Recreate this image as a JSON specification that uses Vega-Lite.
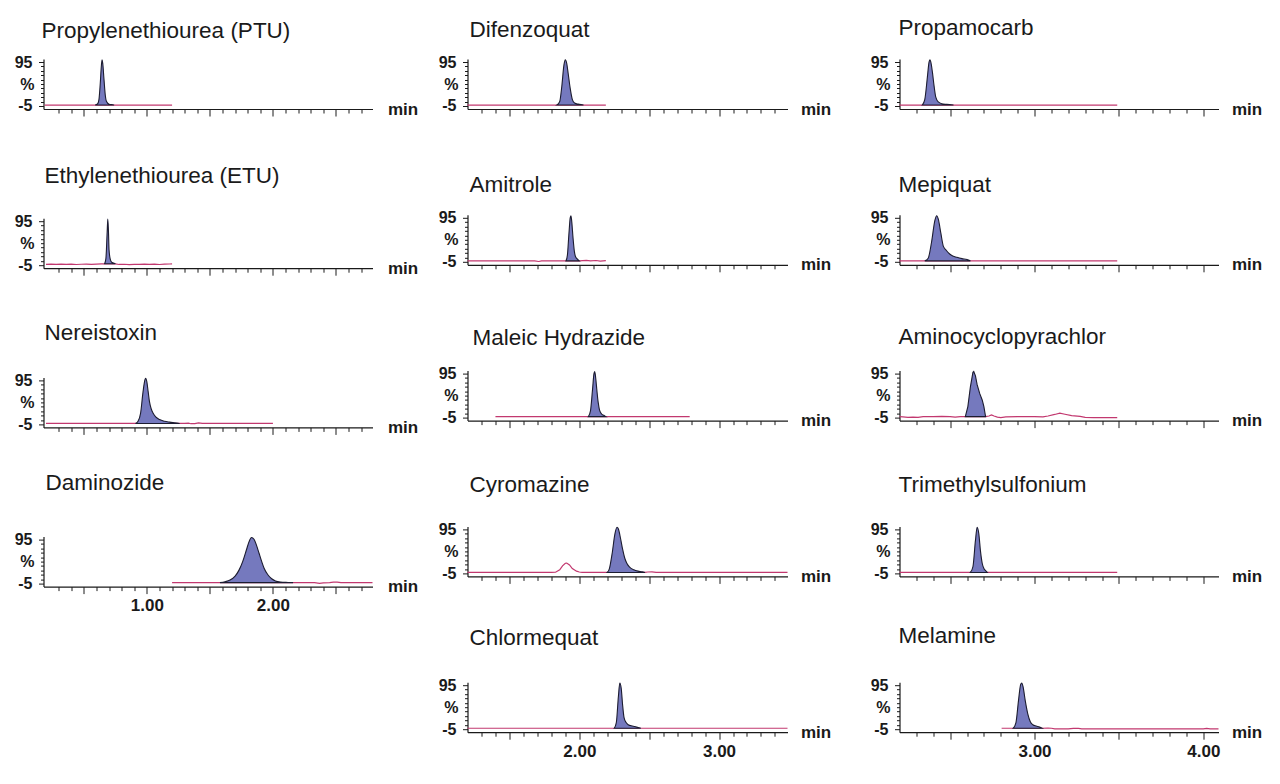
{
 "$schema": "https://vega.github.io/schema/vega-lite/v6.json",
 "padding": {"left": 11.5, "top": 16, "right": 5, "bottom": 5},
 "background": "white",
 "datasets": {
  "trace": [
   {"c":"PTU","t":0.19,"y":-3},{"c":"PTU","t":0.59,"y":-3},{"c":"PTU","t":0.74,"y":-3},{"c":"PTU","t":1.2,"y":-3},
   {"c":"ETU","t":0.2,"y":-3.2},{"c":"ETU","t":0.24,"y":-2.8},{"c":"ETU","t":0.28,"y":-3.5},{"c":"ETU","t":0.32,"y":-2.6},{"c":"ETU","t":0.36,"y":-3.3},{"c":"ETU","t":0.4,"y":-2.9},{"c":"ETU","t":0.44,"y":-3.6},{"c":"ETU","t":0.48,"y":-3.0},{"c":"ETU","t":0.52,"y":-2.5},{"c":"ETU","t":0.56,"y":-3.4},{"c":"ETU","t":0.6,"y":-2.8},{"c":"ETU","t":0.64,"y":-2.2},{"c":"ETU","t":0.665,"y":-2},{"c":"ETU","t":0.75,"y":-2},{"c":"ETU","t":0.78,"y":-3.5},{"c":"ETU","t":0.82,"y":-3.0},{"c":"ETU","t":0.86,"y":-3.8},{"c":"ETU","t":0.9,"y":-3.1},{"c":"ETU","t":0.94,"y":-3.5},{"c":"ETU","t":0.98,"y":-2.7},{"c":"ETU","t":1.02,"y":-3.3},{"c":"ETU","t":1.06,"y":-2.9},{"c":"ETU","t":1.1,"y":-3.6},{"c":"ETU","t":1.14,"y":-2.6},{"c":"ETU","t":1.18,"y":-2.4},{"c":"ETU","t":1.2,"y":-2.2},
   {"c":"NTX","t":0.2,"y":-3},{"c":"NTX","t":0.91,"y":-3},{"c":"NTX","t":1.26,"y":-3},{"c":"NTX","t":1.3,"y":-3},{"c":"NTX","t":1.33,"y":-2.2},{"c":"NTX","t":1.35,"y":-3.6},{"c":"NTX","t":1.38,"y":-3.4},{"c":"NTX","t":1.41,"y":-1.6},{"c":"NTX","t":1.44,"y":-3},{"c":"NTX","t":1.5,"y":-3},{"c":"NTX","t":2.0,"y":-3},
   {"c":"DAM","t":1.2,"y":-3},{"c":"DAM","t":1.58,"y":-3},{"c":"DAM","t":2.16,"y":-3},{"c":"DAM","t":2.33,"y":-3},{"c":"DAM","t":2.37,"y":-4.5},{"c":"DAM","t":2.4,"y":-3.6},{"c":"DAM","t":2.45,"y":-3},{"c":"DAM","t":2.48,"y":-2},{"c":"DAM","t":2.51,"y":-1.8},{"c":"DAM","t":2.54,"y":-3},{"c":"DAM","t":2.79,"y":-3},
   {"c":"DIF","t":1.2,"y":-3},{"c":"DIF","t":1.84,"y":-3},{"c":"DIF","t":2.03,"y":-3},{"c":"DIF","t":2.19,"y":-3},
   {"c":"AMI","t":1.2,"y":-3},{"c":"AMI","t":1.5,"y":-3},{"c":"AMI","t":1.68,"y":-3},{"c":"AMI","t":1.71,"y":-4.5},{"c":"AMI","t":1.73,"y":-3},{"c":"AMI","t":1.905,"y":-3},{"c":"AMI","t":2.0,"y":-3},{"c":"AMI","t":2.05,"y":-1.8},{"c":"AMI","t":2.08,"y":-3},{"c":"AMI","t":2.12,"y":-2.2},{"c":"AMI","t":2.15,"y":-3.5},{"c":"AMI","t":2.19,"y":-2.6},
   {"c":"MAL","t":1.4,"y":-3},{"c":"MAL","t":2.065,"y":-3},{"c":"MAL","t":2.19,"y":-3},{"c":"MAL","t":2.79,"y":-3},
   {"c":"CYR","t":1.2,"y":-3},{"c":"CYR","t":1.8,"y":-3},{"c":"CYR","t":1.83,"y":-2.5},{"c":"CYR","t":1.86,"y":3},{"c":"CYR","t":1.88,"y":12},{"c":"CYR","t":1.9,"y":18},{"c":"CYR","t":1.91,"y":18.5},{"c":"CYR","t":1.93,"y":14},{"c":"CYR","t":1.95,"y":6},{"c":"CYR","t":1.98,"y":0},{"c":"CYR","t":2.0,"y":-2},{"c":"CYR","t":2.02,"y":-3},{"c":"CYR","t":2.2,"y":-3},{"c":"CYR","t":2.47,"y":-3},{"c":"CYR","t":2.49,"y":-2},{"c":"CYR","t":2.52,"y":-1.5},{"c":"CYR","t":2.55,"y":-3},{"c":"CYR","t":3.49,"y":-3},
   {"c":"CHL","t":1.2,"y":-3},{"c":"CHL","t":2.25,"y":-3},{"c":"CHL","t":2.44,"y":-3},{"c":"CHL","t":3.49,"y":-3},
   {"c":"PRO","t":2.2,"y":-3},{"c":"PRO","t":2.335,"y":-3},{"c":"PRO","t":2.52,"y":-3},{"c":"PRO","t":3.49,"y":-3},
   {"c":"MEP","t":2.2,"y":-3},{"c":"MEP","t":2.35,"y":-3},{"c":"MEP","t":2.62,"y":-3},{"c":"MEP","t":3.49,"y":-3},
   {"c":"AMC","t":2.2,"y":-3},{"c":"AMC","t":2.22,"y":-3.5},{"c":"AMC","t":2.25,"y":-4.5},{"c":"AMC","t":2.28,"y":-4},{"c":"AMC","t":2.31,"y":-4.5},{"c":"AMC","t":2.34,"y":-3},{"c":"AMC","t":2.4,"y":-3},{"c":"AMC","t":2.45,"y":-2.5},{"c":"AMC","t":2.5,"y":-3},{"c":"AMC","t":2.53,"y":-4},{"c":"AMC","t":2.56,"y":-3},{"c":"AMC","t":2.59,"y":-3},{"c":"AMC","t":2.71,"y":-3},{"c":"AMC","t":2.73,"y":-1.5},{"c":"AMC","t":2.745,"y":1},{"c":"AMC","t":2.76,"y":-1.5},{"c":"AMC","t":2.78,"y":-4},{"c":"AMC","t":2.8,"y":-5},{"c":"AMC","t":2.83,"y":-3.5},{"c":"AMC","t":2.9,"y":-3},{"c":"AMC","t":3.0,"y":-3},{"c":"AMC","t":3.05,"y":-3.5},{"c":"AMC","t":3.08,"y":-1.5},{"c":"AMC","t":3.12,"y":2},{"c":"AMC","t":3.15,"y":5},{"c":"AMC","t":3.18,"y":2.5},{"c":"AMC","t":3.22,"y":-0.5},{"c":"AMC","t":3.27,"y":-2.5},{"c":"AMC","t":3.3,"y":-4.5},{"c":"AMC","t":3.35,"y":-5},{"c":"AMC","t":3.49,"y":-5},
   {"c":"TMS","t":2.2,"y":-3},{"c":"TMS","t":2.62,"y":-3},{"c":"TMS","t":2.72,"y":-3},{"c":"TMS","t":3.49,"y":-3},
   {"c":"MEL","t":2.805,"y":-3},{"c":"MEL","t":2.874,"y":-3},{"c":"MEL","t":3.045,"y":-3},{"c":"MEL","t":3.08,"y":-2.5},{"c":"MEL","t":3.1,"y":-3},{"c":"MEL","t":3.12,"y":-4.5},{"c":"MEL","t":3.2,"y":-4.5},{"c":"MEL","t":3.23,"y":-3.5},{"c":"MEL","t":3.26,"y":-3.5},{"c":"MEL","t":3.28,"y":-4.5},{"c":"MEL","t":4.0,"y":-4.5},{"c":"MEL","t":4.02,"y":-3.5},{"c":"MEL","t":4.04,"y":-4.5},{"c":"MEL","t":4.09,"y":-4.5}
  ],
  "peak": [
   {"c":"PTU","t":0.59,"y":-3},{"c":"PTU","t":0.61,"y":0},{"c":"PTU","t":0.62,"y":10},{"c":"PTU","t":0.63,"y":45},{"c":"PTU","t":0.64,"y":90},{"c":"PTU","t":0.645,"y":100},{"c":"PTU","t":0.65,"y":92},{"c":"PTU","t":0.66,"y":55},{"c":"PTU","t":0.67,"y":20},{"c":"PTU","t":0.68,"y":5},{"c":"PTU","t":0.7,"y":-1},{"c":"PTU","t":0.73,"y":-2.5},{"c":"PTU","t":0.74,"y":-3},
   {"c":"ETU","t":0.665,"y":-2},{"c":"ETU","t":0.675,"y":10},{"c":"ETU","t":0.685,"y":70},{"c":"ETU","t":0.69,"y":100},{"c":"ETU","t":0.695,"y":75},{"c":"ETU","t":0.7,"y":30},{"c":"ETU","t":0.71,"y":8},{"c":"ETU","t":0.72,"y":2},{"c":"ETU","t":0.735,"y":0},{"c":"ETU","t":0.75,"y":-2},
   {"c":"NTX","t":0.91,"y":-3},{"c":"NTX","t":0.93,"y":2},{"c":"NTX","t":0.95,"y":20},{"c":"NTX","t":0.97,"y":70},{"c":"NTX","t":0.985,"y":97},{"c":"NTX","t":0.99,"y":100},{"c":"NTX","t":1.0,"y":92},{"c":"NTX","t":1.01,"y":70},{"c":"NTX","t":1.02,"y":48},{"c":"NTX","t":1.035,"y":30},{"c":"NTX","t":1.05,"y":20},{"c":"NTX","t":1.07,"y":12},{"c":"NTX","t":1.1,"y":6},{"c":"NTX","t":1.14,"y":2},{"c":"NTX","t":1.18,"y":0},{"c":"NTX","t":1.22,"y":-1.5},{"c":"NTX","t":1.26,"y":-3},
   {"c":"DAM","t":1.58,"y":-3},{"c":"DAM","t":1.62,"y":-1},{"c":"DAM","t":1.66,"y":3},{"c":"DAM","t":1.7,"y":12},{"c":"DAM","t":1.73,"y":25},{"c":"DAM","t":1.76,"y":45},{"c":"DAM","t":1.79,"y":72},{"c":"DAM","t":1.81,"y":90},{"c":"DAM","t":1.83,"y":100},{"c":"DAM","t":1.85,"y":96},{"c":"DAM","t":1.87,"y":82},{"c":"DAM","t":1.89,"y":64},{"c":"DAM","t":1.91,"y":46},{"c":"DAM","t":1.93,"y":30},{"c":"DAM","t":1.96,"y":15},{"c":"DAM","t":1.99,"y":6},{"c":"DAM","t":2.02,"y":1},{"c":"DAM","t":2.06,"y":-1.5},{"c":"DAM","t":2.12,"y":-2.5},{"c":"DAM","t":2.16,"y":-3},
   {"c":"DIF","t":1.84,"y":-3},{"c":"DIF","t":1.86,"y":5},{"c":"DIF","t":1.875,"y":40},{"c":"DIF","t":1.89,"y":88},{"c":"DIF","t":1.9,"y":100},{"c":"DIF","t":1.91,"y":92},{"c":"DIF","t":1.92,"y":70},{"c":"DIF","t":1.935,"y":35},{"c":"DIF","t":1.95,"y":10},{"c":"DIF","t":1.965,"y":2},{"c":"DIF","t":1.98,"y":0},{"c":"DIF","t":2.0,"y":-1},{"c":"DIF","t":2.03,"y":-3},
   {"c":"AMI","t":1.905,"y":-3},{"c":"AMI","t":1.915,"y":10},{"c":"AMI","t":1.925,"y":55},{"c":"AMI","t":1.935,"y":95},{"c":"AMI","t":1.94,"y":100},{"c":"AMI","t":1.945,"y":90},{"c":"AMI","t":1.955,"y":50},{"c":"AMI","t":1.965,"y":18},{"c":"AMI","t":1.975,"y":5},{"c":"AMI","t":1.99,"y":0},{"c":"AMI","t":2.0,"y":-3},
   {"c":"MAL","t":2.065,"y":-3},{"c":"MAL","t":2.08,"y":10},{"c":"MAL","t":2.095,"y":60},{"c":"MAL","t":2.105,"y":95},{"c":"MAL","t":2.11,"y":100},{"c":"MAL","t":2.115,"y":92},{"c":"MAL","t":2.125,"y":60},{"c":"MAL","t":2.135,"y":30},{"c":"MAL","t":2.145,"y":12},{"c":"MAL","t":2.16,"y":3},{"c":"MAL","t":2.175,"y":0},{"c":"MAL","t":2.19,"y":-3},
   {"c":"CYR","t":2.2,"y":-3},{"c":"CYR","t":2.215,"y":5},{"c":"CYR","t":2.235,"y":40},{"c":"CYR","t":2.255,"y":85},{"c":"CYR","t":2.27,"y":100},{"c":"CYR","t":2.28,"y":96},{"c":"CYR","t":2.295,"y":75},{"c":"CYR","t":2.31,"y":50},{"c":"CYR","t":2.325,"y":30},{"c":"CYR","t":2.34,"y":18},{"c":"CYR","t":2.36,"y":9},{"c":"CYR","t":2.39,"y":3},{"c":"CYR","t":2.42,"y":0},{"c":"CYR","t":2.45,"y":-1.5},{"c":"CYR","t":2.47,"y":-3},
   {"c":"CHL","t":2.25,"y":-3},{"c":"CHL","t":2.265,"y":10},{"c":"CHL","t":2.28,"y":70},{"c":"CHL","t":2.29,"y":100},{"c":"CHL","t":2.3,"y":88},{"c":"CHL","t":2.31,"y":50},{"c":"CHL","t":2.32,"y":22},{"c":"CHL","t":2.335,"y":10},{"c":"CHL","t":2.35,"y":5},{"c":"CHL","t":2.38,"y":2},{"c":"CHL","t":2.41,"y":0},{"c":"CHL","t":2.44,"y":-3},
   {"c":"PRO","t":2.335,"y":-3},{"c":"PRO","t":2.35,"y":10},{"c":"PRO","t":2.365,"y":60},{"c":"PRO","t":2.375,"y":95},{"c":"PRO","t":2.38,"y":100},{"c":"PRO","t":2.385,"y":96},{"c":"PRO","t":2.395,"y":72},{"c":"PRO","t":2.405,"y":40},{"c":"PRO","t":2.415,"y":15},{"c":"PRO","t":2.43,"y":4},{"c":"PRO","t":2.45,"y":0},{"c":"PRO","t":2.48,"y":-1.5},{"c":"PRO","t":2.52,"y":-3},
   {"c":"MEP","t":2.35,"y":-3},{"c":"MEP","t":2.37,"y":3},{"c":"MEP","t":2.39,"y":40},{"c":"MEP","t":2.41,"y":90},{"c":"MEP","t":2.42,"y":100},{"c":"MEP","t":2.43,"y":92},{"c":"MEP","t":2.445,"y":60},{"c":"MEP","t":2.46,"y":30},{"c":"MEP","t":2.475,"y":22},{"c":"MEP","t":2.49,"y":15},{"c":"MEP","t":2.51,"y":9},{"c":"MEP","t":2.54,"y":5},{"c":"MEP","t":2.57,"y":2},{"c":"MEP","t":2.6,"y":0},{"c":"MEP","t":2.62,"y":-3},
   {"c":"AMC","t":2.59,"y":-3},{"c":"AMC","t":2.605,"y":20},{"c":"AMC","t":2.62,"y":65},{"c":"AMC","t":2.635,"y":98},{"c":"AMC","t":2.64,"y":100},{"c":"AMC","t":2.65,"y":90},{"c":"AMC","t":2.66,"y":70},{"c":"AMC","t":2.675,"y":50},{"c":"AMC","t":2.69,"y":35},{"c":"AMC","t":2.7,"y":20},{"c":"AMC","t":2.71,"y":-3},
   {"c":"TMS","t":2.62,"y":-3},{"c":"TMS","t":2.635,"y":10},{"c":"TMS","t":2.65,"y":70},{"c":"TMS","t":2.66,"y":100},{"c":"TMS","t":2.67,"y":85},{"c":"TMS","t":2.68,"y":45},{"c":"TMS","t":2.69,"y":18},{"c":"TMS","t":2.7,"y":6},{"c":"TMS","t":2.71,"y":1},{"c":"TMS","t":2.72,"y":-3},
   {"c":"MEL","t":2.874,"y":-3},{"c":"MEL","t":2.89,"y":10},{"c":"MEL","t":2.905,"y":60},{"c":"MEL","t":2.918,"y":97},{"c":"MEL","t":2.924,"y":100},{"c":"MEL","t":2.932,"y":92},{"c":"MEL","t":2.945,"y":60},{"c":"MEL","t":2.96,"y":30},{"c":"MEL","t":2.975,"y":12},{"c":"MEL","t":2.99,"y":5},{"c":"MEL","t":3.01,"y":2},{"c":"MEL","t":3.03,"y":0},{"c":"MEL","t":3.045,"y":-3}
  ]
 },
 "spacing": 17,
 "hconcat": [
  {"bounds": "flush", "spacing": 109.2, "vconcat": [
   {"width": 329, "height": 50, "title": {"text": "Propylenethiourea (PTU)", "offset": 12, "dx": -2},
    "encoding": {
     "x": {"field":"t","type":"quantitative","scale":{"domain":[0.18,2.79],"nice":false,"zero":false},"axis":{"values":[0.3,0.4,0.5,0.6,0.7,0.8,0.9,1,1.1,1.2,1.3,1.4,1.5,1.6,1.7,1.8,1.9,2,2.1,2.2,2.3,2.4,2.5,2.6,2.7],"labels":false,"tickSize":{"condition":{"test":"abs(datum.value*2-round(datum.value*2))<0.01","value":7},"value":4},"title":"min","titleX":344,"titleY":5,"titleAlign":"left","titleBaseline":"alphabetic"}},
     "y": {"field":"y","type":"quantitative","scale":{"domain":[-12,102],"nice":false,"zero":false},"axis":{"title":null,"values":[-5,5,15,25,35,45,55,65,75,85,95],"labelExpr":"datum.value == 95 ? '95' : datum.value == 45 ? '%' : datum.value == -5 ? '-5' : ''","tickSize":{"condition":{"test":"datum.value == 95 || datum.value == -5","value":5},"value":3},"labelPadding":6.5,"labelOverlap":false,"minExtent":32,"maxExtent":32}}
    },
    "layer": [
     {"data":{"name":"trace"},"transform":[{"filter":"datum.c === 'PTU'"}],"mark":{"type":"line","stroke":"#c2386f","strokeWidth":1.2}},
     {"data":{"name":"peak"},"transform":[{"filter":"datum.c === 'PTU'"}],"mark":{"type":"area","fill":"#7579be","stroke":"#1c1c30","strokeWidth":1.1,"interpolate":"monotone"},"encoding":{"y2":{"datum":-3}}}
    ]},
   {"width": 329, "height": 50, "title": {"text": "Ethylenethiourea (ETU)", "offset": 25.4, "dx": 1},
    "encoding": {
     "x": {"field":"t","type":"quantitative","scale":{"domain":[0.18,2.79],"nice":false,"zero":false},"axis":{"values":[0.3,0.4,0.5,0.6,0.7,0.8,0.9,1,1.1,1.2,1.3,1.4,1.5,1.6,1.7,1.8,1.9,2,2.1,2.2,2.3,2.4,2.5,2.6,2.7],"labels":false,"tickSize":{"condition":{"test":"abs(datum.value*2-round(datum.value*2))<0.01","value":7},"value":4},"title":"min","titleX":344,"titleY":5,"titleAlign":"left","titleBaseline":"alphabetic"}},
     "y": {"field":"y","type":"quantitative","scale":{"domain":[-12,102],"nice":false,"zero":false},"axis":{"title":null,"values":[-5,5,15,25,35,45,55,65,75,85,95],"labelExpr":"datum.value == 95 ? '95' : datum.value == 45 ? '%' : datum.value == -5 ? '-5' : ''","tickSize":{"condition":{"test":"datum.value == 95 || datum.value == -5","value":5},"value":3},"labelPadding":6.5,"labelOverlap":false,"minExtent":32,"maxExtent":32}}
    },
    "layer": [
     {"data":{"name":"trace"},"transform":[{"filter":"datum.c === 'ETU'"}],"mark":{"type":"line","stroke":"#c2386f","strokeWidth":1.2}},
     {"data":{"name":"peak"},"transform":[{"filter":"datum.c === 'ETU'"}],"mark":{"type":"area","fill":"#7579be","stroke":"#1c1c30","strokeWidth":1.1,"interpolate":"monotone"},"encoding":{"y2":{"datum":-2}}}
    ]},
   {"width": 329, "height": 50, "title": {"text": "Nereistoxin", "offset": 28.4, "dx": 1},
    "encoding": {
     "x": {"field":"t","type":"quantitative","scale":{"domain":[0.18,2.79],"nice":false,"zero":false},"axis":{"values":[0.3,0.4,0.5,0.6,0.7,0.8,0.9,1,1.1,1.2,1.3,1.4,1.5,1.6,1.7,1.8,1.9,2,2.1,2.2,2.3,2.4,2.5,2.6,2.7],"labels":false,"tickSize":{"condition":{"test":"abs(datum.value*2-round(datum.value*2))<0.01","value":7},"value":4},"title":"min","titleX":344,"titleY":5,"titleAlign":"left","titleBaseline":"alphabetic"}},
     "y": {"field":"y","type":"quantitative","scale":{"domain":[-12,102],"nice":false,"zero":false},"axis":{"title":null,"values":[-5,5,15,25,35,45,55,65,75,85,95],"labelExpr":"datum.value == 95 ? '95' : datum.value == 45 ? '%' : datum.value == -5 ? '-5' : ''","tickSize":{"condition":{"test":"datum.value == 95 || datum.value == -5","value":5},"value":3},"labelPadding":6.5,"labelOverlap":false,"minExtent":32,"maxExtent":32}}
    },
    "layer": [
     {"data":{"name":"trace"},"transform":[{"filter":"datum.c === 'NTX'"}],"mark":{"type":"line","stroke":"#c2386f","strokeWidth":1.2}},
     {"data":{"name":"peak"},"transform":[{"filter":"datum.c === 'NTX'"}],"mark":{"type":"area","fill":"#7579be","stroke":"#1c1c30","strokeWidth":1.1,"interpolate":"monotone"},"encoding":{"y2":{"datum":-3}}}
    ]},
   {"width": 329, "height": 50, "title": {"text": "Daminozide", "offset": 36.7, "dx": 2},
    "encoding": {
     "x": {"field":"t","type":"quantitative","scale":{"domain":[0.18,2.79],"nice":false,"zero":false},"axis":{"values":[0.3,0.4,0.5,0.6,0.7,0.8,0.9,1,1.1,1.2,1.3,1.4,1.5,1.6,1.7,1.8,1.9,2,2.1,2.2,2.3,2.4,2.5,2.6,2.7],"labels":true,"labelExpr":"abs(datum.value - round(datum.value)) < 0.01 ? format(datum.value, '.2f') : ''","labelOverlap":false,"labelFlush":false,"labelPadding":4,"labelFontSize":17,"tickSize":{"condition":{"test":"abs(datum.value*2-round(datum.value*2))<0.01","value":7},"value":4},"title":"min","titleX":344,"titleY":5,"titleAlign":"left","titleBaseline":"alphabetic"}},
     "y": {"field":"y","type":"quantitative","scale":{"domain":[-12,102],"nice":false,"zero":false},"axis":{"title":null,"values":[-5,5,15,25,35,45,55,65,75,85,95],"labelExpr":"datum.value == 95 ? '95' : datum.value == 45 ? '%' : datum.value == -5 ? '-5' : ''","tickSize":{"condition":{"test":"datum.value == 95 || datum.value == -5","value":5},"value":3},"labelPadding":6.5,"labelOverlap":false,"minExtent":32,"maxExtent":32}}
    },
    "layer": [
     {"data":{"name":"trace"},"transform":[{"filter":"datum.c === 'DAM'"}],"mark":{"type":"line","stroke":"#c2386f","strokeWidth":1.2}},
     {"data":{"name":"peak"},"transform":[{"filter":"datum.c === 'DAM'"}],"mark":{"type":"area","fill":"#7579be","stroke":"#1c1c30","strokeWidth":1.1,"interpolate":"monotone"},"encoding":{"y2":{"datum":-3}}}
    ]}
  ]},
  {"bounds": "flush", "spacing": 105.8, "vconcat": [
   {"width": 320, "height": 50, "title": {"text": "Difenzoquat", "offset": 13, "dx": 2},
    "encoding": {
     "x": {"field":"t","type":"quantitative","scale":{"domain":[1.2,3.49],"nice":false,"zero":false},"axis":{"values":[1.3,1.4,1.5,1.6,1.7,1.8,1.9,2,2.1,2.2,2.3,2.4,2.5,2.6,2.7,2.8,2.9,3,3.1,3.2,3.3,3.4],"labels":false,"tickSize":{"condition":{"test":"abs(datum.value*2-round(datum.value*2))<0.01","value":7},"value":4},"title":"min","titleX":333,"titleY":5,"titleAlign":"left","titleBaseline":"alphabetic"}},
     "y": {"field":"y","type":"quantitative","scale":{"domain":[-12,102],"nice":false,"zero":false},"axis":{"title":null,"values":[-5,5,15,25,35,45,55,65,75,85,95],"labelExpr":"datum.value == 95 ? '95' : datum.value == 45 ? '%' : datum.value == -5 ? '-5' : ''","tickSize":{"condition":{"test":"datum.value == 95 || datum.value == -5","value":5},"value":3},"labelPadding":6.5,"labelOverlap":false,"minExtent":32,"maxExtent":32}}
    },
    "layer": [
     {"data":{"name":"trace"},"transform":[{"filter":"datum.c === 'DIF'"}],"mark":{"type":"line","stroke":"#c2386f","strokeWidth":1.2}},
     {"data":{"name":"peak"},"transform":[{"filter":"datum.c === 'DIF'"}],"mark":{"type":"area","fill":"#7579be","stroke":"#1c1c30","strokeWidth":1.1,"interpolate":"monotone"},"encoding":{"y2":{"datum":-3}}}
    ]},
   {"width": 320, "height": 50, "title": {"text": "Amitrole", "offset": 13.7, "dx": 2},
    "encoding": {
     "x": {"field":"t","type":"quantitative","scale":{"domain":[1.2,3.49],"nice":false,"zero":false},"axis":{"values":[1.3,1.4,1.5,1.6,1.7,1.8,1.9,2,2.1,2.2,2.3,2.4,2.5,2.6,2.7,2.8,2.9,3,3.1,3.2,3.3,3.4],"labels":false,"tickSize":{"condition":{"test":"abs(datum.value*2-round(datum.value*2))<0.01","value":7},"value":4},"title":"min","titleX":333,"titleY":5,"titleAlign":"left","titleBaseline":"alphabetic"}},
     "y": {"field":"y","type":"quantitative","scale":{"domain":[-12,102],"nice":false,"zero":false},"axis":{"title":null,"values":[-5,5,15,25,35,45,55,65,75,85,95],"labelExpr":"datum.value == 95 ? '95' : datum.value == 45 ? '%' : datum.value == -5 ? '-5' : ''","tickSize":{"condition":{"test":"datum.value == 95 || datum.value == -5","value":5},"value":3},"labelPadding":6.5,"labelOverlap":false,"minExtent":32,"maxExtent":32}}
    },
    "layer": [
     {"data":{"name":"trace"},"transform":[{"filter":"datum.c === 'AMI'"}],"mark":{"type":"line","stroke":"#c2386f","strokeWidth":1.2}},
     {"data":{"name":"peak"},"transform":[{"filter":"datum.c === 'AMI'"}],"mark":{"type":"area","fill":"#7579be","stroke":"#1c1c30","strokeWidth":1.1,"interpolate":"monotone"},"encoding":{"y2":{"datum":-3}}}
    ]},
   {"width": 320, "height": 50, "title": {"text": "Maleic Hydrazide", "offset": 16, "dx": 5},
    "encoding": {
     "x": {"field":"t","type":"quantitative","scale":{"domain":[1.2,3.49],"nice":false,"zero":false},"axis":{"values":[1.3,1.4,1.5,1.6,1.7,1.8,1.9,2,2.1,2.2,2.3,2.4,2.5,2.6,2.7,2.8,2.9,3,3.1,3.2,3.3,3.4],"labels":false,"tickSize":{"condition":{"test":"abs(datum.value*2-round(datum.value*2))<0.01","value":7},"value":4},"title":"min","titleX":333,"titleY":5,"titleAlign":"left","titleBaseline":"alphabetic"}},
     "y": {"field":"y","type":"quantitative","scale":{"domain":[-12,102],"nice":false,"zero":false},"axis":{"title":null,"values":[-5,5,15,25,35,45,55,65,75,85,95],"labelExpr":"datum.value == 95 ? '95' : datum.value == 45 ? '%' : datum.value == -5 ? '-5' : ''","tickSize":{"condition":{"test":"datum.value == 95 || datum.value == -5","value":5},"value":3},"labelPadding":6.5,"labelOverlap":false,"minExtent":32,"maxExtent":32}}
    },
    "layer": [
     {"data":{"name":"trace"},"transform":[{"filter":"datum.c === 'MAL'"}],"mark":{"type":"line","stroke":"#c2386f","strokeWidth":1.2}},
     {"data":{"name":"peak"},"transform":[{"filter":"datum.c === 'MAL'"}],"mark":{"type":"area","fill":"#7579be","stroke":"#1c1c30","strokeWidth":1.1,"interpolate":"monotone"},"encoding":{"y2":{"datum":-3}}}
    ]},
   {"width": 320, "height": 50, "title": {"text": "Cyromazine", "offset": 25, "dx": 2},
    "encoding": {
     "x": {"field":"t","type":"quantitative","scale":{"domain":[1.2,3.49],"nice":false,"zero":false},"axis":{"values":[1.3,1.4,1.5,1.6,1.7,1.8,1.9,2,2.1,2.2,2.3,2.4,2.5,2.6,2.7,2.8,2.9,3,3.1,3.2,3.3,3.4],"labels":false,"tickSize":{"condition":{"test":"abs(datum.value*2-round(datum.value*2))<0.01","value":7},"value":4},"title":"min","titleX":333,"titleY":5,"titleAlign":"left","titleBaseline":"alphabetic"}},
     "y": {"field":"y","type":"quantitative","scale":{"domain":[-12,102],"nice":false,"zero":false},"axis":{"title":null,"values":[-5,5,15,25,35,45,55,65,75,85,95],"labelExpr":"datum.value == 95 ? '95' : datum.value == 45 ? '%' : datum.value == -5 ? '-5' : ''","tickSize":{"condition":{"test":"datum.value == 95 || datum.value == -5","value":5},"value":3},"labelPadding":6.5,"labelOverlap":false,"minExtent":32,"maxExtent":32}}
    },
    "layer": [
     {"data":{"name":"trace"},"transform":[{"filter":"datum.c === 'CYR'"}],"mark":{"type":"line","stroke":"#c2386f","strokeWidth":1.2}},
     {"data":{"name":"peak"},"transform":[{"filter":"datum.c === 'CYR'"}],"mark":{"type":"area","fill":"#7579be","stroke":"#1c1c30","strokeWidth":1.1,"interpolate":"monotone"},"encoding":{"y2":{"datum":-3}}}
    ]},
   {"width": 320, "height": 50, "title": {"text": "Chlormequat", "offset": 27.4, "dx": 2},
    "encoding": {
     "x": {"field":"t","type":"quantitative","scale":{"domain":[1.2,3.49],"nice":false,"zero":false},"axis":{"values":[1.3,1.4,1.5,1.6,1.7,1.8,1.9,2,2.1,2.2,2.3,2.4,2.5,2.6,2.7,2.8,2.9,3,3.1,3.2,3.3,3.4],"labels":true,"labelExpr":"abs(datum.value - round(datum.value)) < 0.01 ? format(datum.value, '.2f') : ''","labelOverlap":false,"labelFlush":false,"labelPadding":4,"labelFontSize":17,"tickSize":{"condition":{"test":"abs(datum.value*2-round(datum.value*2))<0.01","value":7},"value":4},"title":"min","titleX":333,"titleY":5,"titleAlign":"left","titleBaseline":"alphabetic"}},
     "y": {"field":"y","type":"quantitative","scale":{"domain":[-12,102],"nice":false,"zero":false},"axis":{"title":null,"values":[-5,5,15,25,35,45,55,65,75,85,95],"labelExpr":"datum.value == 95 ? '95' : datum.value == 45 ? '%' : datum.value == -5 ? '-5' : ''","tickSize":{"condition":{"test":"datum.value == 95 || datum.value == -5","value":5},"value":3},"labelPadding":6.5,"labelOverlap":false,"minExtent":32,"maxExtent":32}}
    },
    "layer": [
     {"data":{"name":"trace"},"transform":[{"filter":"datum.c === 'CHL'"}],"mark":{"type":"line","stroke":"#c2386f","strokeWidth":1.2}},
     {"data":{"name":"peak"},"transform":[{"filter":"datum.c === 'CHL'"}],"mark":{"type":"area","fill":"#7579be","stroke":"#1c1c30","strokeWidth":1.1,"interpolate":"monotone"},"encoding":{"y2":{"datum":-3}}}
    ]}
  ]},
  {"bounds": "flush", "spacing": 105.8, "vconcat": [
   {"width": 319, "height": 50, "title": {"text": "Propamocarb", "offset": 15, "dx": -1},
    "encoding": {
     "x": {"field":"t","type":"quantitative","scale":{"domain":[2.2,4.09],"nice":false,"zero":false},"axis":{"values":[2.3,2.4,2.5,2.6,2.7,2.8,2.9,3,3.1,3.2,3.3,3.4,3.5,3.6,3.7,3.8,3.9,4],"labels":false,"tickSize":{"condition":{"test":"abs(datum.value*2-round(datum.value*2))<0.01","value":7},"value":4},"title":"min","titleX":332,"titleY":5,"titleAlign":"left","titleBaseline":"alphabetic"}},
     "y": {"field":"y","type":"quantitative","scale":{"domain":[-12,102],"nice":false,"zero":false},"axis":{"title":null,"values":[-5,5,15,25,35,45,55,65,75,85,95],"labelExpr":"datum.value == 95 ? '95' : datum.value == 45 ? '%' : datum.value == -5 ? '-5' : ''","tickSize":{"condition":{"test":"datum.value == 95 || datum.value == -5","value":5},"value":3},"labelPadding":6.5,"labelOverlap":false,"minExtent":50.6,"maxExtent":50.6}}
    },
    "layer": [
     {"data":{"name":"trace"},"transform":[{"filter":"datum.c === 'PRO'"}],"mark":{"type":"line","stroke":"#c2386f","strokeWidth":1.2}},
     {"data":{"name":"peak"},"transform":[{"filter":"datum.c === 'PRO'"}],"mark":{"type":"area","fill":"#7579be","stroke":"#1c1c30","strokeWidth":1.1,"interpolate":"monotone"},"encoding":{"y2":{"datum":-3}}}
    ]},
   {"width": 319, "height": 50, "title": {"text": "Mepiquat", "offset": 13.7, "dx": -1},
    "encoding": {
     "x": {"field":"t","type":"quantitative","scale":{"domain":[2.2,4.09],"nice":false,"zero":false},"axis":{"values":[2.3,2.4,2.5,2.6,2.7,2.8,2.9,3,3.1,3.2,3.3,3.4,3.5,3.6,3.7,3.8,3.9,4],"labels":false,"tickSize":{"condition":{"test":"abs(datum.value*2-round(datum.value*2))<0.01","value":7},"value":4},"title":"min","titleX":332,"titleY":5,"titleAlign":"left","titleBaseline":"alphabetic"}},
     "y": {"field":"y","type":"quantitative","scale":{"domain":[-12,102],"nice":false,"zero":false},"axis":{"title":null,"values":[-5,5,15,25,35,45,55,65,75,85,95],"labelExpr":"datum.value == 95 ? '95' : datum.value == 45 ? '%' : datum.value == -5 ? '-5' : ''","tickSize":{"condition":{"test":"datum.value == 95 || datum.value == -5","value":5},"value":3},"labelPadding":6.5,"labelOverlap":false,"minExtent":50.6,"maxExtent":50.6}}
    },
    "layer": [
     {"data":{"name":"trace"},"transform":[{"filter":"datum.c === 'MEP'"}],"mark":{"type":"line","stroke":"#c2386f","strokeWidth":1.2}},
     {"data":{"name":"peak"},"transform":[{"filter":"datum.c === 'MEP'"}],"mark":{"type":"area","fill":"#7579be","stroke":"#1c1c30","strokeWidth":1.1,"interpolate":"monotone"},"encoding":{"y2":{"datum":-3}}}
    ]},
   {"width": 319, "height": 50, "title": {"text": "Aminocyclopyrachlor", "offset": 16.7, "dx": -1},
    "encoding": {
     "x": {"field":"t","type":"quantitative","scale":{"domain":[2.2,4.09],"nice":false,"zero":false},"axis":{"values":[2.3,2.4,2.5,2.6,2.7,2.8,2.9,3,3.1,3.2,3.3,3.4,3.5,3.6,3.7,3.8,3.9,4],"labels":false,"tickSize":{"condition":{"test":"abs(datum.value*2-round(datum.value*2))<0.01","value":7},"value":4},"title":"min","titleX":332,"titleY":5,"titleAlign":"left","titleBaseline":"alphabetic"}},
     "y": {"field":"y","type":"quantitative","scale":{"domain":[-12,102],"nice":false,"zero":false},"axis":{"title":null,"values":[-5,5,15,25,35,45,55,65,75,85,95],"labelExpr":"datum.value == 95 ? '95' : datum.value == 45 ? '%' : datum.value == -5 ? '-5' : ''","tickSize":{"condition":{"test":"datum.value == 95 || datum.value == -5","value":5},"value":3},"labelPadding":6.5,"labelOverlap":false,"minExtent":50.6,"maxExtent":50.6}}
    },
    "layer": [
     {"data":{"name":"trace"},"transform":[{"filter":"datum.c === 'AMC'"}],"mark":{"type":"line","stroke":"#c2386f","strokeWidth":1.2}},
     {"data":{"name":"peak"},"transform":[{"filter":"datum.c === 'AMC'"}],"mark":{"type":"area","fill":"#7579be","stroke":"#1c1c30","strokeWidth":1.1,"interpolate":"linear"},"encoding":{"y2":{"datum":-3}}}
    ]},
   {"width": 319, "height": 50, "title": {"text": "Trimethylsulfonium", "offset": 24.7, "dx": -1},
    "encoding": {
     "x": {"field":"t","type":"quantitative","scale":{"domain":[2.2,4.09],"nice":false,"zero":false},"axis":{"values":[2.3,2.4,2.5,2.6,2.7,2.8,2.9,3,3.1,3.2,3.3,3.4,3.5,3.6,3.7,3.8,3.9,4],"labels":false,"tickSize":{"condition":{"test":"abs(datum.value*2-round(datum.value*2))<0.01","value":7},"value":4},"title":"min","titleX":332,"titleY":5,"titleAlign":"left","titleBaseline":"alphabetic"}},
     "y": {"field":"y","type":"quantitative","scale":{"domain":[-12,102],"nice":false,"zero":false},"axis":{"title":null,"values":[-5,5,15,25,35,45,55,65,75,85,95],"labelExpr":"datum.value == 95 ? '95' : datum.value == 45 ? '%' : datum.value == -5 ? '-5' : ''","tickSize":{"condition":{"test":"datum.value == 95 || datum.value == -5","value":5},"value":3},"labelPadding":6.5,"labelOverlap":false,"minExtent":50.6,"maxExtent":50.6}}
    },
    "layer": [
     {"data":{"name":"trace"},"transform":[{"filter":"datum.c === 'TMS'"}],"mark":{"type":"line","stroke":"#c2386f","strokeWidth":1.2}},
     {"data":{"name":"peak"},"transform":[{"filter":"datum.c === 'TMS'"}],"mark":{"type":"area","fill":"#7579be","stroke":"#1c1c30","strokeWidth":1.1,"interpolate":"monotone"},"encoding":{"y2":{"datum":-3}}}
    ]},
   {"width": 319, "height": 50, "title": {"text": "Melamine", "offset": 29.7, "dx": -1},
    "encoding": {
     "x": {"field":"t","type":"quantitative","scale":{"domain":[2.2,4.09],"nice":false,"zero":false},"axis":{"values":[2.3,2.4,2.5,2.6,2.7,2.8,2.9,3,3.1,3.2,3.3,3.4,3.5,3.6,3.7,3.8,3.9,4],"labels":true,"labelExpr":"abs(datum.value - round(datum.value)) < 0.01 ? format(datum.value, '.2f') : ''","labelOverlap":false,"labelFlush":false,"labelPadding":4,"labelFontSize":17,"tickSize":{"condition":{"test":"abs(datum.value*2-round(datum.value*2))<0.01","value":7},"value":4},"title":"min","titleX":332,"titleY":5,"titleAlign":"left","titleBaseline":"alphabetic"}},
     "y": {"field":"y","type":"quantitative","scale":{"domain":[-12,102],"nice":false,"zero":false},"axis":{"title":null,"values":[-5,5,15,25,35,45,55,65,75,85,95],"labelExpr":"datum.value == 95 ? '95' : datum.value == 45 ? '%' : datum.value == -5 ? '-5' : ''","tickSize":{"condition":{"test":"datum.value == 95 || datum.value == -5","value":5},"value":3},"labelPadding":6.5,"labelOverlap":false,"minExtent":50.6,"maxExtent":50.6}}
    },
    "layer": [
     {"data":{"name":"trace"},"transform":[{"filter":"datum.c === 'MEL'"}],"mark":{"type":"line","stroke":"#c2386f","strokeWidth":1.2}},
     {"data":{"name":"peak"},"transform":[{"filter":"datum.c === 'MEL'"}],"mark":{"type":"area","fill":"#7579be","stroke":"#1c1c30","strokeWidth":1.1,"interpolate":"monotone"},"encoding":{"y2":{"datum":-3}}}
    ]}
  ]}
 ],
 "config": {
  "view": {"stroke": null},
  "font": "Liberation Sans",
  "axis": {"grid": false, "domainColor": "#1a1a1a", "domainWidth": 1.2, "tickColor": "#1a1a1a", "tickWidth": 1, "labelColor": "#1a1a1a", "labelFont": "Liberation Sans", "labelFontSize": 16, "labelFontWeight": "bold", "titleColor": "#1a1a1a", "titleFont": "Liberation Sans", "titleFontSize": 17, "titleFontWeight": "bold"},
  "title": {"font": "Liberation Sans", "fontSize": 22.5, "fontWeight": "normal", "color": "#1a1a1a", "anchor": "start", "frame": "group"}
 }
}
